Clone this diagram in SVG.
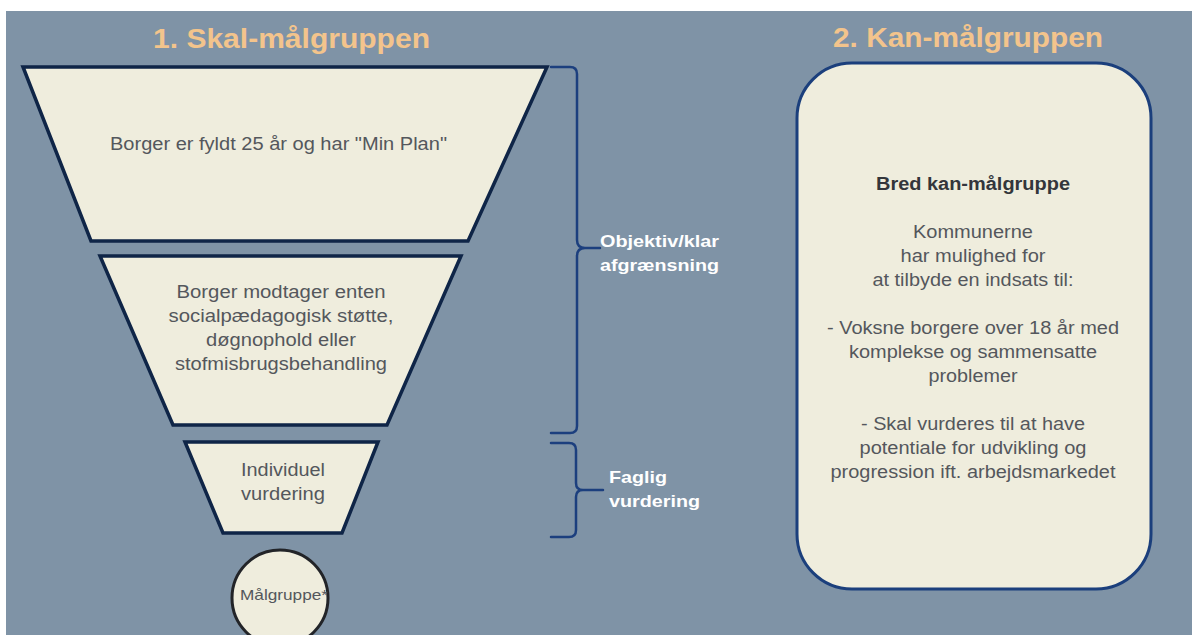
<svg xmlns="http://www.w3.org/2000/svg" width="1192" height="635" viewBox="0 0 1192 635">
  <style>
    .bg { fill: #7F93A6; }
    .title { font-family: "Liberation Sans", Arial, sans-serif; font-weight: bold; font-size: 28px; fill: #F3C48C; text-anchor: middle; }
    .body { font-family: "Liberation Sans", Arial, sans-serif; font-size: 17.5px; fill: #54575C; text-anchor: middle; }
    .bold { font-weight: bold; fill: #33363B; }
    .label { font-family: "Liberation Sans", Arial, sans-serif; font-weight: bold; font-size: 17px; fill: #FFFFFF; }
    .trap { fill: #EFEDDD; stroke: #0F2547; stroke-width: 3.5; stroke-linejoin: miter; }
    .circ { fill: #EFEDDD; stroke: #222428; stroke-width: 3; }
    .box { fill: #EFEDDD; stroke: #1B3F7C; stroke-width: 3; }
    .brace { fill: none; stroke: #1C3F7E; stroke-width: 2.5; stroke-linecap: round; stroke-linejoin: round; }
  </style>
  <rect x="0" y="0" width="1192" height="635" fill="#FFFFFF"/>
  <rect class="bg" x="6" y="11" width="1186" height="624"/>

  <text class="title" x="291.5" y="48" textLength="277" lengthAdjust="spacingAndGlyphs">1. Skal-målgruppen</text>
  <text class="title" x="968" y="47" textLength="270" lengthAdjust="spacingAndGlyphs">2. Kan-målgruppen</text>

  <g id="trap1">
    <polygon class="trap" points="23,67 547,67 468,241 91,241"/>
    <text class="body" x="278.5" y="150" textLength="337" lengthAdjust="spacingAndGlyphs">Borger er fyldt 25 år og har "Min Plan"</text>
  </g>

  <g id="trap2">
    <polygon class="trap" points="100,256 461,256 387,425 173,425"/>
    <text class="body" x="281" y="298" textLength="209" lengthAdjust="spacingAndGlyphs">Borger modtager enten</text>
    <text class="body" x="281" y="322" textLength="225" lengthAdjust="spacingAndGlyphs">socialpædagogisk støtte,</text>
    <text class="body" x="281" y="346" textLength="150" lengthAdjust="spacingAndGlyphs">døgnophold eller</text>
    <text class="body" x="281" y="370" textLength="212" lengthAdjust="spacingAndGlyphs">stofmisbrugsbehandling</text>
  </g>

  <g id="trap3">
    <polygon class="trap" points="185,442 378,442 342,533 223,533"/>
    <text class="body" x="283" y="476" textLength="84" lengthAdjust="spacingAndGlyphs">Individuel</text>
    <text class="body" x="283" y="500" textLength="84" lengthAdjust="spacingAndGlyphs">vurdering</text>
  </g>

  <g id="target">
    <circle class="circ" cx="280" cy="598" r="48"/>
    <text class="body" x="284" y="600" style="font-size:14.5px" textLength="88" lengthAdjust="spacingAndGlyphs">Målgruppe*</text>
  </g>

  <g id="connectors">
    <path class="brace" d="M 551 67 L 570 67 Q 577 67 577 74 L 577 240 Q 577 248 585 248 L 600 248 M 585 248 Q 577 248 577 256 L 577 426 Q 577 433 570 433 L 551 433"/>
    <path class="brace" d="M 551 443 L 569 443 Q 576 443 576 450 L 576 483 Q 576 490 583 490 L 603 490 M 583 490 Q 576 490 576 497 L 576 530 Q 576 537 569 537 L 551 537"/>
  </g>

  <g id="label-objektiv">
    <text class="label" x="600" y="247" textLength="119" lengthAdjust="spacingAndGlyphs">Objektiv/klar</text>
    <text class="label" x="600" y="271" textLength="119" lengthAdjust="spacingAndGlyphs">afgrænsning</text>
  </g>

  <g id="label-faglig">
    <text class="label" x="609" y="483" textLength="58" lengthAdjust="spacingAndGlyphs">Faglig</text>
    <text class="label" x="609" y="507" textLength="91" lengthAdjust="spacingAndGlyphs">vurdering</text>
  </g>

  <g id="kan-box">
    <rect class="box" x="797" y="63" width="354" height="526" rx="55" ry="55"/>
    <text class="body bold" x="973" y="190" textLength="194" lengthAdjust="spacingAndGlyphs">Bred kan-målgruppe</text>
    <text class="body" x="973" y="238" textLength="120" lengthAdjust="spacingAndGlyphs">Kommunerne</text>
    <text class="body" x="973" y="262" textLength="145" lengthAdjust="spacingAndGlyphs">har mulighed for</text>
    <text class="body" x="973" y="286" textLength="201" lengthAdjust="spacingAndGlyphs">at tilbyde en indsats til:</text>
    <text class="body" x="973" y="334" textLength="292" lengthAdjust="spacingAndGlyphs">- Voksne borgere over 18 år med</text>
    <text class="body" x="973" y="358" textLength="248" lengthAdjust="spacingAndGlyphs">komplekse og sammensatte</text>
    <text class="body" x="973" y="382" textLength="89" lengthAdjust="spacingAndGlyphs">problemer</text>
    <text class="body" x="973" y="430" textLength="224" lengthAdjust="spacingAndGlyphs">- Skal vurderes til at have</text>
    <text class="body" x="973" y="454" textLength="227" lengthAdjust="spacingAndGlyphs">potentiale for udvikling og</text>
    <text class="body" x="973" y="478" textLength="285" lengthAdjust="spacingAndGlyphs">progression ift. arbejdsmarkedet</text>
  </g>
</svg>
